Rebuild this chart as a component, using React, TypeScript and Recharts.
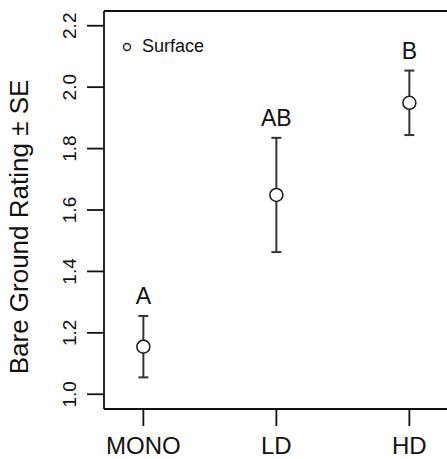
import {
  ComposedChart,
  Scatter,
  ErrorBar,
  XAxis,
  YAxis,
  ReferenceLine,
} from "recharts";

const groups = ["MONO", "LD", "HD"];
const meanRating = [1.155, 1.649, 1.949];
const seRating = [0.1, 0.186, 0.105];
const letters = ["A", "AB", "B"];
const yTicks = [1.0, 1.2, 1.4, 1.6, 1.8, 2.0, 2.2];

const data = groups.map((g, i) => ({
  pos: i + 1,
  group: g,
  mean: meanRating[i],
  se: seRating[i],
  top: meanRating[i] + seRating[i],
  letter: letters[i],
}));

const FONT = "'Liberation Sans', Arial, Helvetica, sans-serif";
const Y_DOMAIN: [number, number] = [0.952, 2.248];

const PointShape = (props: any) => {
  const { cx, cy } = props;
  return <circle cx={cx} cy={cy} r={6.5} fill="#fff" stroke="#222" strokeWidth={1.6} />;
};

const LetterShape = (props: any) => {
  const { cx, cy, payload } = props;
  return (
    <text x={cx} y={cy - 12} textAnchor="middle" fontSize={23} fontFamily={FONT} fill="#111">
      {payload.letter}
    </text>
  );
};

const YTick = (props: any) => {
  const { x, y, payload } = props;
  const bx = x - 9;
  return (
    <text
      x={bx}
      y={y}
      transform={`rotate(-90 ${bx} ${y})`}
      textAnchor="middle"
      fontSize={19}
      fontFamily={FONT}
      fill="#111"
    >
      {payload.value.toFixed(1)}
    </text>
  );
};

const XTick = (props: any) => {
  const { x, y, payload } = props;
  return (
    <text x={x} y={y + 26} textAnchor="middle" fontSize={24} fontFamily={FONT} fill="#111">
      {groups[payload.value - 1]}
    </text>
  );
};

const YLabel = () => (
  <text
    x={28}
    y={227}
    transform="rotate(-90 28 227)"
    textAnchor="middle"
    fontSize={26}
    fontFamily={FONT}
    fill="#111"
  >
    Bare Ground Rating ± SE
  </text>
);

export default function App() {
  return (
    <div style={{ position: "absolute", left: 0, top: 0, width: 447, height: 459, background: "#fff" }}>
      <ComposedChart width={447} height={459} data={data} margin={{ top: 11, right: 0, bottom: 20, left: 0 }}>
        <XAxis
          type="number"
          dataKey="pos"
          domain={[0.704, 3.283]}
          ticks={[1, 2, 3]}
          allowDataOverflow
          height={30}
          tick={<XTick />}
          tickSize={17}
          tickMargin={2}
          stroke="#111"
          strokeWidth={1.8}
        />
        <YAxis
          yAxisId="m"
          type="number"
          dataKey="mean"
          domain={Y_DOMAIN}
          ticks={yTicks}
          allowDataOverflow
          width={104}
          tick={<YTick />}
          tickSize={17}
          tickMargin={2}
          stroke="#111"
          strokeWidth={1.8}
          label={{ content: YLabel }}
        />
        <YAxis yAxisId="t" type="number" dataKey="top" domain={Y_DOMAIN} allowDataOverflow hide />
        <ReferenceLine yAxisId="m" y={Y_DOMAIN[1]} stroke="#111" strokeWidth={2} />
        <Scatter yAxisId="m" dataKey="mean" shape={PointShape} isAnimationActive={false} name="Surface">
          <ErrorBar dataKey="se" direction="y" width={5} stroke="#333" strokeWidth={2} />
        </Scatter>
        <Scatter yAxisId="t" dataKey="top" shape={LetterShape} isAnimationActive={false} />
      </ComposedChart>
      <div
        style={{
          position: "absolute",
          left: 122,
          top: 36,
          display: "flex",
          alignItems: "center",
          fontFamily: FONT,
          fontSize: 18,
          color: "#111",
        }}
      >
        <svg width={10} height={10} style={{ marginRight: 10 }}>
          <circle cx={5} cy={5} r={3.5} fill="#fff" stroke="#222" strokeWidth={1.4} />
        </svg>
        <span>Surface</span>
      </div>
    </div>
  );
}
